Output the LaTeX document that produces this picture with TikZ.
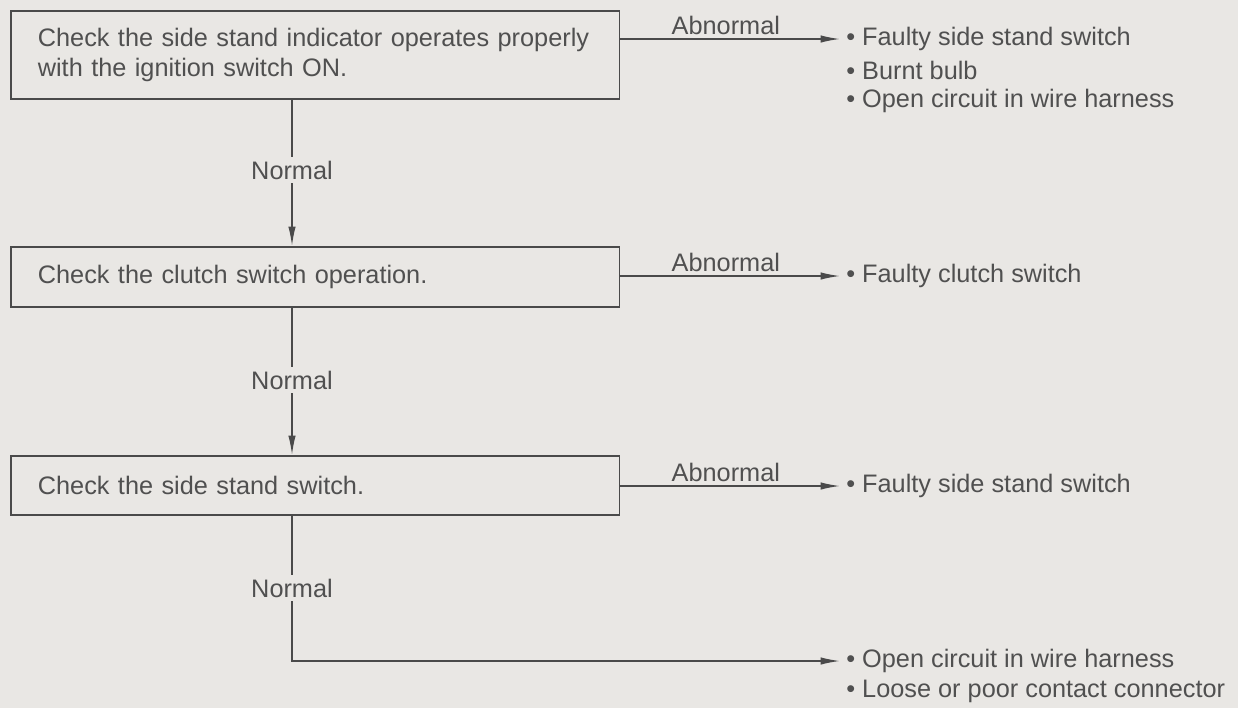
\documentclass[tikz,border=0pt]{standalone}
\usepackage{fontspec}
\setmainfont{Liberation Sans}
\usepackage{tikz}
\usetikzlibrary{arrows.meta,calc}
\definecolor{papergray}{HTML}{E9E7E4}
\definecolor{inkgray}{HTML}{4A4A4A}
\definecolor{textgray}{HTML}{505050}

\begin{document}
\begin{tikzpicture}[
    x=0.02cm, y=-0.02cm,
    checkbox/.style={
      draw=inkgray, line width=1.1pt,
      anchor=north west, inner xsep=27*0.5669pt, inner ysep=0pt,
      text width=557*0.5669pt, minimum width=611*0.5669pt,
      align=left, font=\fontsize{14.4}{17}\selectfont\color{textgray}
    },
    branchlabel/.style={font=\fontsize{14.4}{16}\selectfont\color{textgray}, inner sep=2pt},
    resultline/.style={anchor=west, inner sep=0pt,
      font=\fontsize{14.4}{16}\selectfont\color{textgray}},
    flow/.style={draw=inkgray, line width=0.85pt},
    flowarrow/.style={flow, -{Latex[length=11pt,width=4.2pt]}}
  ]
  % page and background
  \fill[papergray] (0,0) rectangle (1238,708);
  \useasboundingbox (0,0) rectangle (1238,708);

  % the three checks
  \node[checkbox, minimum height=88*0.5669pt] (chkIndicator) at (10,10)
    {Check the side stand indicator operates properly\\with the ignition switch ON.};
  \node[checkbox, minimum height=60*0.5669pt] (chkClutch) at (10,246)
    {Check the clutch switch operation.};
  \node[checkbox, minimum height=59*0.5669pt] (chkStand) at (10,455)
    {Check the side stand switch.};

  % results
  \node[resultline] (resIndA) at (846,39)  {\textbullet\ Faulty side stand switch};
  \node[resultline] (resIndB) at (846,70)  {\textbullet\ Burnt bulb};
  \node[resultline] (resIndC) at (846,101) {\textbullet\ Open circuit in wire harness};
  \node[resultline] (resClutch) at (846,276) {\textbullet\ Faulty clutch switch};
  \node[resultline] (resStand)  at (846,486) {\textbullet\ Faulty side stand switch};
  \node[resultline] (resWireA)  at (846,661) {\textbullet\ Open circuit in wire harness};
  \node[resultline] (resWireB)  at (846,691) {\textbullet\ Loose or poor contact connector};

  % normal path
  \node[branchlabel] (okIndicator) at (292,170) {Normal};
  \node[branchlabel] (okClutch)    at (292,380) {Normal};
  \node[branchlabel] (okStand)     at (292,588) {Normal};
  \coordinate (turnWire) at (292,661);

  \draw[flow] (chkIndicator.south -| okIndicator) -- (okIndicator.north);
  \draw[flowarrow] (okIndicator.south) -- (chkClutch.north -| okIndicator);
  \draw[flow] (chkClutch.south -| okClutch) -- (okClutch.north);
  \draw[flowarrow] (okClutch.south) -- (chkStand.north -| okClutch);
  \draw[flow] (chkStand.south -| okStand) -- (okStand.north);
  \draw[flowarrow] (okStand.south) -- (turnWire) -- ([xshift=-6*0.5669pt]resWireA.west);

  % abnormal branches
  \draw[flowarrow] (chkIndicator.east |- resIndA) -- node[branchlabel, above, pos=0.48] (badIndicator) {Abnormal} ([xshift=-6*0.5669pt]resIndA.west);
  \draw[flowarrow] (chkClutch.east |- resClutch) -- node[branchlabel, above, pos=0.48] (badClutch) {Abnormal} ([xshift=-6*0.5669pt]resClutch.west);
  \draw[flowarrow] (chkStand.east |- resStand) -- node[branchlabel, above, pos=0.48] (badStand) {Abnormal} ([xshift=-6*0.5669pt]resStand.west);
\end{tikzpicture}
\end{document}
